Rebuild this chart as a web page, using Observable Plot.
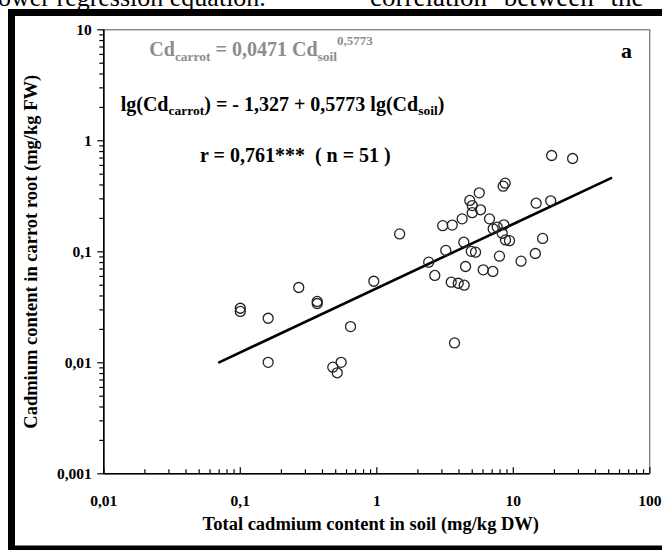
<!DOCTYPE html>
<html>
<head>
<meta charset="utf-8">
<script src="https://cdn.jsdelivr.net/npm/d3@7"></script>
<script src="https://cdn.jsdelivr.net/npm/@observablehq/plot@0.6"></script>
<style>
  body { margin: 0; background: #fff; }
  #chart { width: 662px; height: 550px; overflow: hidden; }
  #chart svg { display: block; }
</style>
</head>
<body>
<div id="chart"></div>
<script>
// Cadmium in soil (mg/kg DW) vs cadmium in carrot root (mg/kg FW)
const soilCd = [0.1, 0.1, 0.16, 0.16, 0.268, 0.366, 0.366, 0.642, 0.476, 0.548, 0.513, 0.951, 1.47, 2.40, 2.66, 3.04, 3.57, 3.20, 3.51, 3.95, 4.37, 3.71, 4.22, 4.34, 4.47, 4.80, 5.00, 5.63, 5.00, 5.75, 4.92, 5.29, 6.02, 7.08, 6.69, 7.12, 7.62, 8.43, 8.72, 8.52, 8.29, 8.77, 9.38, 7.92, 11.4, 14.7, 18.8, 16.4, 14.5, 19.1, 27.2];
const carrotCd = [0.031, 0.029, 0.0252, 0.0101, 0.0477, 0.0357, 0.0342, 0.0212, 0.00913, 0.0101, 0.00813, 0.0543, 0.145, 0.0806, 0.0612, 0.172, 0.174, 0.103, 0.0532, 0.0521, 0.050, 0.0151, 0.198, 0.122, 0.0737, 0.290, 0.261, 0.340, 0.225, 0.239, 0.101, 0.0992, 0.0688, 0.0665, 0.198, 0.161, 0.167, 0.390, 0.415, 0.175, 0.147, 0.128, 0.126, 0.0913, 0.0823, 0.274, 0.288, 0.132, 0.0965, 0.737, 0.693];

// regression line end points
const fitSoil = [0.07, 52];
const fitCarrot = [0.0101, 0.461];

const xTicks = [0.01, 0.1, 1, 10, 100];
const xTickLabels = ["0,01", "0,1", "1", "10", "100"];
const yTicks = [0.001, 0.01, 0.1, 1, 10];
const yTickLabels = ["0,001", "0,01", "0,1", "1", "10"];

const xTitle = "Total cadmium content in soil (mg/kg DW)";
const yTitle = "Cadmium content in carrot root (mg/kg FW)";
const panelLetter = "a";
const docLeft = "ower regression equation.";
const docRight = "correlation between the";

// minor log ticks (2..9 in each decade)
const minorTicks = (lo, hi) => {
  const out = [];
  for (let d = lo; d < hi; d *= 10) for (let k = 2; k <= 9; k++) out.push(+(d * k).toPrecision(3));
  return out;
};
const xMinor = minorTicks(0.01, 100);
const yMinor = minorTicks(0.001, 10);

const font = "'Liberation Serif', 'Times New Roman', serif";
const xLab = d => xTickLabels[xTicks.indexOf(d)];
const yLab = d => yTickLabels[yTicks.indexOf(d)];

const chart = Plot.plot({
  width: 662,
  height: 550,
  marginLeft: 103.3,
  marginRight: 12.7,
  marginTop: 29.3,
  marginBottom: 76.7,
  style: { fontFamily: font, background: "#fff", color: "#000", overflow: "visible" },
  x: { type: "log", domain: [0.01, 100] },
  y: { type: "log", domain: [0.001, 10] },
  marks: [
    Plot.frame({ stroke: "#555", strokeWidth: 1 }),
    // tick labels
    Plot.axisX(xTicks, { tickFormat: xLab, tickSize: 0, tickPadding: 21, fontSize: 15.5, fontWeight: "bold", label: null }),
    Plot.axisY(yTicks, { tickFormat: yLab, tickSize: 0, tickPadding: 12, fontSize: 15.5, fontWeight: "bold", label: null }),
    // x ticks (pointing up into the plot)
    Plot.ruleX(xTicks, { x: d => d, y1: 0.001, y2: 0.001, insetTop: -6, stroke: "#000", strokeWidth: 1.2 }),
    Plot.ruleX(xMinor, { x: d => d, y1: 0.001, y2: 0.001, insetTop: -4, stroke: "#000", strokeWidth: 1.2 }),
    // y ticks (pointing left, outside)
    Plot.ruleY(yTicks, { y: d => d, x1: 0.01, x2: 0.01, insetLeft: -6, stroke: "#000", strokeWidth: 1.2 }),
    Plot.ruleY(yMinor, { y: d => d, x1: 0.01, x2: 0.01, insetLeft: -4, stroke: "#000", strokeWidth: 1.2 }),
    // axis lines
    Plot.ruleX([0.01], { stroke: "#000", strokeWidth: 1.6 }),
    Plot.ruleY([0.001], { stroke: "#000", strokeWidth: 1.6 }),
    // axis titles
    Plot.text([xTitle], { frameAnchor: "bottom", textAnchor: "middle", dy: 56, dx: -6, fontSize: 18.5, fontWeight: "bold", fill: "#000" }),
    Plot.text([yTitle], { frameAnchor: "left", textAnchor: "middle", lineAnchor: "middle", rotate: -90, dx: -73, fontSize: 18.5, fontWeight: "bold", fill: "#000" }),
    // regression line
    Plot.line(fitSoil.map((_, i) => i), { x: fitSoil, y: fitCarrot, stroke: "#000", strokeWidth: 2.6 }),
    // data points
    Plot.dot(soilCd.map((_, i) => i), { x: soilCd, y: carrotCd, r: 5, fill: "none", stroke: "#222", strokeWidth: 1.3 })
  ]
});

const svg = d3.select(chart);

// equations (real text, with sub/superscripts)
function eq(x, y, parts, fill) {
  const t = svg.append("text")
    .attr("x", x).attr("y", y)
    .attr("fill", fill)
    .attr("text-anchor", "start")
    .style("font-family", font)
    .style("font-weight", "bold")
    .style("white-space", "pre")
    .attr("xml:space", "preserve");
  let shift = 0;
  for (const [txt, size, off] of parts) {
    t.append("tspan").attr("font-size", size).attr("dy", off - shift).text(txt);
    shift = off;
  }
}
eq(149.3, 56, [["Cd", 20, 0], ["carrot", 13.5, 4.5], [" = 0,0471 Cd", 20, 0], ["soil", 13.5, 4.5], ["0,5773", 13, -11]], "#8c8c8c");
eq(120.7, 110.7, [["lg(Cd", 20, 0], ["carrot", 13.5, 4.5], [") = - 1,327 + 0,5773 lg(Cd", 20, 0], ["soil", 13.5, 4.5], [")", 20, 0]], "#000");
eq(200, 161.7, [["r = 0,761***  ( n = 51 )", 20, 0]], "#000");

svg.append("text").attr("x", 621).attr("y", 57.7).attr("text-anchor", "start")
  .style("font-family", font).style("font-weight", "bold")
  .attr("font-size", 22).attr("fill", "#000").text(panelLetter);

// surrounding document text (cut at the top edge)
svg.append("text").attr("x", -2).attr("y", 6).attr("text-anchor", "start")
  .style("font-family", font).attr("font-size", 26).attr("fill", "#000").text(docLeft);
svg.append("text").attr("x", 370).attr("y", 6).attr("text-anchor", "start")
  .style("font-family", font).style("word-spacing", "10px").attr("font-size", 27).attr("fill", "#000").text(docRight);

// thick outer border of the figure panel (right and bottom sides run past the picture)
svg.append("rect").attr("x", 11.5).attr("y", 12.5).attr("width", 665).attr("height", 536.5)
  .attr("fill", "none").attr("stroke", "#000").attr("stroke-width", 7);

document.getElementById("chart").appendChild(chart);
</script>
</body>
</html>
